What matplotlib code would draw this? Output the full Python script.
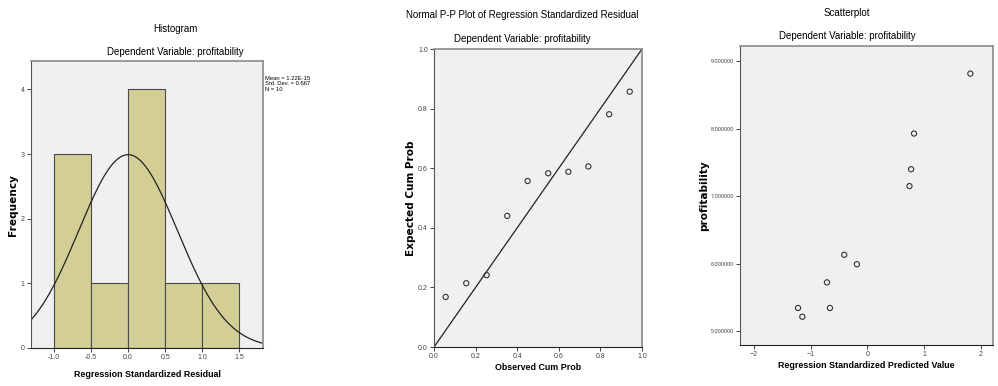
import matplotlib
matplotlib.use('Agg')
import matplotlib.pyplot as plt
import numpy as np

plt.rcParams['font.family'] = ['Liberation Sans', 'DejaVu Sans']

# histogram of residuals
bin_edges = [-1.0, -0.5, 0.0, 0.5, 1.0, 1.5]
bin_counts = [3, 1, 4, 1, 1]
res_mean = 0.0
res_sd = 0.667
res_n = 10

# normal P-P plot
obs_cum = [0.056, 0.155, 0.253, 0.352, 0.450, 0.549, 0.646, 0.742, 0.842, 0.941]
exp_cum = [0.168, 0.214, 0.241, 0.440, 0.557, 0.583, 0.588, 0.606, 0.781, 0.857]

# scatterplot
pred_std = [1.82, 0.825, 0.773, 0.744, -0.408, -0.185, -0.714, -1.225, -0.661, -1.149]
profit = [8.82, 7.93, 7.40, 7.15, 6.13, 5.99, 5.72, 5.34, 5.34, 5.21]

W, H = 998, 386
fig = plt.figure(figsize=(W / 100, H / 100), dpi=100)

bg = '#f0f0f0'
frame = '#8a8a8a'


def make_ax(l, r, t, b):
    ax = fig.add_axes([l / W, 1 - b / H, (r - l) / W, (b - t) / H])
    ax.set_facecolor(bg)
    for s in ['top', 'right']:
        ax.spines[s].set_color(frame)
        ax.spines[s].set_linewidth(1.2)
    ax.spines['left'].set_color('#555555')
    ax.spines['bottom'].set_color('#222222')
    ax.tick_params(labelsize=5, length=3, width=0.7, colors='#444444', pad=1.5)
    return ax, (l, r, t, b)


def labels(ax, box, xl, xy, yl, yx):
    # xy = top of x label, yx = right edge of rotated y label (pixels)
    l, r, t, b = box
    ax.set_xlabel(xl, fontsize=6.4, fontweight='bold')
    ax.xaxis.set_label_coords(0.5, (b - xy) / (b - t))
    ax.set_ylabel(yl, fontsize=7.6, fontweight='bold', family=['DejaVu Sans'])
    ax.yaxis.set_label_coords((yx - l) / (r - l), 0.5)


def titles(cx, y1, t1, y2):
    fig.text(cx / W, 1 - y1 / H, t1, ha='center', va='center', fontsize=7)
    fig.text(cx / W, 1 - y2 / H, 'Dependent Variable: profitability',
             ha='center', va='center', fontsize=7)


# --- Histogram
ax1, box1 = make_ax(31, 263, 61, 348)
widths = np.diff(bin_edges)
ax1.bar(bin_edges[:-1], bin_counts, width=widths, align='edge',
        color='#d3ce96', edgecolor='#4a4a4a', linewidth=0.8)
xs = np.linspace(-1.31, 1.82, 300)
bw = widths[0]
ys = res_n * bw / (res_sd * np.sqrt(2 * np.pi)) * np.exp(-0.5 * ((xs - res_mean) / res_sd) ** 2)
ax1.plot(xs, ys, color='#222222', linewidth=0.9)
ax1.set_xlim(-1.31, 1.82)
ax1.set_ylim(0, 4.44)
ax1.set_xticks([-1.0, -0.5, 0.0, 0.5, 1.0, 1.5])
ax1.set_xticklabels(['-1.0', '-0.5', '0.0', '0.5', '1.0', '1.5'])
ax1.set_yticks([0, 1, 2, 3, 4])
labels(ax1, box1, 'Regression Standardized Residual', 370, 'Frequency', 18)
titles(175, 29, 'Histogram', 52)
fig.text(265 / W, 1 - 76 / H, 'Mean = 1.22E-15\nStd. Dev. = 0.667\nN = 10',
         ha='left', va='top', fontsize=4.2, linespacing=1.1)

# --- P-P plot
ax2, box2 = make_ax(434, 642, 49, 347)
ax2.plot([0, 1], [0, 1], color='#222222', linewidth=0.9)
ax2.scatter(obs_cum, exp_cum, s=14, facecolors='none', edgecolors='#333333', linewidths=0.8, zorder=3)
ax2.set_xlim(0, 1)
ax2.set_ylim(0, 1)
ticks = [0.0, 0.2, 0.4, 0.6, 0.8, 1.0]
ax2.set_xticks(ticks)
ax2.set_yticks(ticks)
ax2.set_xticklabels(['%.1f' % t for t in ticks])
ax2.set_yticklabels(['%.1f' % t for t in ticks])
labels(ax2, box2, 'Observed Cum Prob', 363, 'Expected Cum Prob', 416)
titles(522, 15, 'Normal P-P Plot of Regression Standardized Residual', 39)

# --- Scatterplot
ax3, box3 = make_ax(740, 993, 46, 345)
ax3.scatter(pred_std, profit, s=14, facecolors='none', edgecolors='#333333', linewidths=0.8)
ax3.set_xlim(-2.25, 2.22)
ax3.set_ylim(4.79, 9.23)
ax3.set_xticks([-2, -1, 0, 1, 2])
ax3.set_yticks([5, 6, 7, 8, 9])
ax3.set_yticklabels(['%.6f' % v for v in [5, 6, 7, 8, 9]])
ax3.tick_params(axis='y', labelsize=4, pad=1)
labels(ax3, box3, 'Regression Standardized Predicted Value', 361, 'profitability', 709)
titles(847, 13, 'Scatterplot', 36)

fig.savefig('out.png', dpi=100, facecolor='white')
